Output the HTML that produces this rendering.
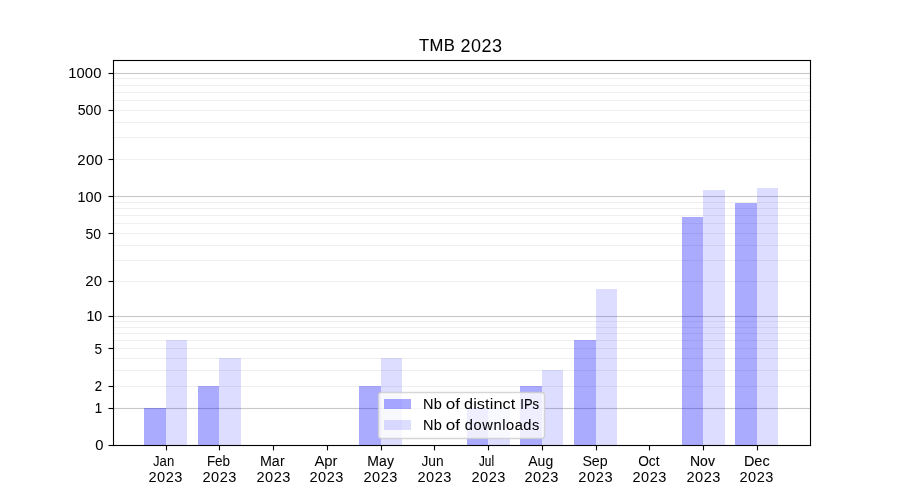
<!DOCTYPE html>
<html lang="en">
<head>
<meta charset="utf-8">
<title>TMB 2023</title>
<style>
html,body{margin:0;padding:0;background:#ffffff;}
body{width:900px;height:500px;overflow:hidden;}
svg{display:block;will-change:transform;}
text{font-family:"Liberation Sans",sans-serif;fill:#000000;}
</style>
</head>
<body>
<svg width="900" height="500" viewBox="0 0 900 500">
<rect x="0" y="0" width="900" height="500" fill="#ffffff"/>
<g fill="#b0b0b0" fill-opacity="0.2">
<rect x="112.5" y="385.9445" width="697.500" height="1.111"/>
<rect x="112.5" y="369.9445" width="697.500" height="1.111"/>
<rect x="112.5" y="357.9445" width="697.500" height="1.111"/>
<rect x="112.5" y="347.9445" width="697.500" height="1.111"/>
<rect x="112.5" y="339.9445" width="697.500" height="1.111"/>
<rect x="112.5" y="332.9445" width="697.500" height="1.111"/>
<rect x="112.5" y="326.9445" width="697.500" height="1.111"/>
<rect x="112.5" y="320.9445" width="697.500" height="1.111"/>
<rect x="112.5" y="280.9445" width="697.500" height="1.111"/>
<rect x="112.5" y="259.9445" width="697.500" height="1.111"/>
<rect x="112.5" y="244.9445" width="697.500" height="1.111"/>
<rect x="112.5" y="232.9445" width="697.500" height="1.111"/>
<rect x="112.5" y="222.9445" width="697.500" height="1.111"/>
<rect x="112.5" y="214.9445" width="697.500" height="1.111"/>
<rect x="112.5" y="207.9445" width="697.500" height="1.111"/>
<rect x="112.5" y="201.9445" width="697.500" height="1.111"/>
<rect x="112.5" y="158.9445" width="697.500" height="1.111"/>
<rect x="112.5" y="136.9445" width="697.500" height="1.111"/>
<rect x="112.5" y="121.9445" width="697.500" height="1.111"/>
<rect x="112.5" y="109.9445" width="697.500" height="1.111"/>
<rect x="112.5" y="99.9445" width="697.500" height="1.111"/>
<rect x="112.5" y="91.9445" width="697.500" height="1.111"/>
<rect x="112.5" y="84.9445" width="697.500" height="1.111"/>
<rect x="112.5" y="77.9445" width="697.500" height="1.111"/>
</g>
<g fill="#b0b0b0" fill-opacity="0.7">
<rect x="112.5" y="407.9445" width="697.500" height="1.111"/>
<rect x="112.5" y="315.9445" width="697.500" height="1.111"/>
<rect x="112.5" y="195.9445" width="697.500" height="1.111"/>
<rect x="112.5" y="72.9445" width="697.500" height="1.111"/>
</g>
<g fill="#0000ff" fill-opacity="0.3333">
<rect x="144" y="408" width="22" height="37"/>
<rect x="198" y="386" width="21" height="59"/>
<rect x="359" y="386" width="22" height="59"/>
<rect x="467" y="408" width="21" height="37"/>
<rect x="520" y="386" width="22" height="59"/>
<rect x="574" y="340" width="22" height="105"/>
<rect x="682" y="217" width="21" height="228"/>
<rect x="735" y="203" width="22" height="242"/>
</g>
<g fill="#0000ff" fill-opacity="0.1333">
<rect x="166" y="340" width="21" height="105"/>
<rect x="219" y="358" width="22" height="87"/>
<rect x="381" y="358" width="21" height="87"/>
<rect x="488" y="408" width="22" height="37"/>
<rect x="542" y="370" width="21" height="75"/>
<rect x="596" y="289" width="21" height="156"/>
<rect x="703" y="190" width="22" height="255"/>
<rect x="757" y="188" width="21" height="257"/>
</g>
<g fill="#000000">
<rect x="112.9445" y="59.944" width="1.111" height="386.112"/>
<rect x="809.9445" y="59.944" width="1.111" height="386.112"/>
<rect x="112.944" y="59.9445" width="698.112" height="1.111"/>
<rect x="112.944" y="444.9445" width="698.112" height="1.111"/>
</g>
<g fill="#000000">
<rect x="165.9445" y="445.5" width="1.111" height="4.860"/>
<rect x="218.9445" y="445.5" width="1.111" height="4.860"/>
<rect x="272.9445" y="445.5" width="1.111" height="4.860"/>
<rect x="326.9445" y="445.5" width="1.111" height="4.860"/>
<rect x="380.9445" y="445.5" width="1.111" height="4.860"/>
<rect x="433.9445" y="445.5" width="1.111" height="4.860"/>
<rect x="487.9445" y="445.5" width="1.111" height="4.860"/>
<rect x="541.9445" y="445.5" width="1.111" height="4.860"/>
<rect x="595.9445" y="445.5" width="1.111" height="4.860"/>
<rect x="648.9445" y="445.5" width="1.111" height="4.860"/>
<rect x="702.9445" y="445.5" width="1.111" height="4.860"/>
<rect x="756.9445" y="445.5" width="1.111" height="4.860"/>
<rect x="108.5" y="444.9445" width="5.000" height="1.111"/>
<rect x="108.5" y="407.9445" width="5.000" height="1.111"/>
<rect x="108.5" y="385.9445" width="5.000" height="1.111"/>
<rect x="108.5" y="347.9445" width="5.000" height="1.111"/>
<rect x="108.5" y="315.9445" width="5.000" height="1.111"/>
<rect x="108.5" y="280.9445" width="5.000" height="1.111"/>
<rect x="108.5" y="232.9445" width="5.000" height="1.111"/>
<rect x="108.5" y="195.9445" width="5.000" height="1.111"/>
<rect x="108.5" y="158.9445" width="5.000" height="1.111"/>
<rect x="108.5" y="109.9445" width="5.000" height="1.111"/>
<rect x="108.5" y="72.9445" width="5.000" height="1.111"/>
</g>
<text x="153.00" y="465.53" font-size="14.70" textLength="21.20" lengthAdjust="spacingAndGlyphs">Jan</text>
<text x="148.50" y="481.83" font-size="14.45" letter-spacing="0.50" textLength="34.50" lengthAdjust="spacingAndGlyphs">2023</text>
<text x="206.94" y="466.28" font-size="14.90" letter-spacing="-0.05" textLength="23.09" lengthAdjust="spacingAndGlyphs">Feb</text>
<text x="202.50" y="481.83" font-size="14.45" letter-spacing="0.50" textLength="34.50" lengthAdjust="spacingAndGlyphs">2023</text>
<text x="259.88" y="466.28" font-size="14.25" letter-spacing="0.10" stroke="#000000" stroke-width="0.03" textLength="24.85" lengthAdjust="spacingAndGlyphs">Mar</text>
<text x="256.50" y="481.83" font-size="14.45" letter-spacing="0.50" textLength="34.50" lengthAdjust="spacingAndGlyphs">2023</text>
<text x="314.50" y="466.28" font-size="14.30" letter-spacing="-0.05" textLength="23.00" lengthAdjust="spacingAndGlyphs">Apr</text>
<text x="309.50" y="481.83" font-size="14.45" letter-spacing="0.50" textLength="34.50" lengthAdjust="spacingAndGlyphs">2023</text>
<text x="367.19" y="466.28" font-size="15.55" letter-spacing="0.15" stroke="#000000" stroke-width="0.10" textLength="26.83" lengthAdjust="spacingAndGlyphs">May</text>
<text x="363.50" y="481.83" font-size="14.45" letter-spacing="0.50" textLength="34.50" lengthAdjust="spacingAndGlyphs">2023</text>
<text x="421.50" y="465.53" font-size="14.70" textLength="22.12" lengthAdjust="spacingAndGlyphs">Jun</text>
<text x="417.50" y="481.83" font-size="14.45" letter-spacing="0.50" textLength="34.50" lengthAdjust="spacingAndGlyphs">2023</text>
<text x="479.00" y="466.28" font-size="14.55" stroke="#000000" stroke-width="0.13" textLength="15.00" lengthAdjust="spacingAndGlyphs">Jul</text>
<text x="471.50" y="481.83" font-size="14.45" letter-spacing="0.50" textLength="34.50" lengthAdjust="spacingAndGlyphs">2023</text>
<text x="528.25" y="466.28" font-size="14.50" textLength="24.93" lengthAdjust="spacingAndGlyphs">Aug</text>
<text x="524.50" y="481.83" font-size="14.45" letter-spacing="0.50" textLength="34.50" lengthAdjust="spacingAndGlyphs">2023</text>
<text x="582.50" y="466.28" font-size="14.00" letter-spacing="-0.10" textLength="24.99" lengthAdjust="spacingAndGlyphs">Sep</text>
<text x="578.19" y="481.83" font-size="14.45" letter-spacing="0.60" textLength="35.02" lengthAdjust="spacingAndGlyphs">2023</text>
<text x="638.19" y="466.28" font-size="15.00" letter-spacing="-0.05" stroke="#000000" stroke-width="0.03" textLength="21.25" lengthAdjust="spacingAndGlyphs">Oct</text>
<text x="632.50" y="481.83" font-size="14.45" letter-spacing="0.50" textLength="34.50" lengthAdjust="spacingAndGlyphs">2023</text>
<text x="690.00" y="466.28" font-size="14.60" stroke="#000000" stroke-width="0.13" textLength="24.93" lengthAdjust="spacingAndGlyphs">Nov</text>
<text x="686.50" y="481.83" font-size="14.45" letter-spacing="0.50" textLength="34.50" lengthAdjust="spacingAndGlyphs">2023</text>
<text x="743.94" y="466.28" font-size="14.90" stroke="#000000" stroke-width="0.08" textLength="25.69" lengthAdjust="spacingAndGlyphs">Dec</text>
<text x="739.50" y="481.83" font-size="14.45" letter-spacing="0.50" textLength="34.50" lengthAdjust="spacingAndGlyphs">2023</text>
<text x="95.25" y="450.00" font-size="14.25" stroke="#000000" stroke-width="0.05" textLength="8.20" lengthAdjust="spacingAndGlyphs">0</text>
<text x="94.75" y="413.00" font-size="14.05" letter-spacing="0.10" stroke="#000000" stroke-width="0.13" textLength="7.42" lengthAdjust="spacingAndGlyphs">1</text>
<text x="94.75" y="391.00" font-size="14.70" letter-spacing="0.05" stroke="#000000" stroke-width="0.13" textLength="7.30" lengthAdjust="spacingAndGlyphs">2</text>
<text x="94.50" y="354.00" font-size="13.95" textLength="7.60" lengthAdjust="spacingAndGlyphs">5</text>
<text x="86.62" y="321.00" font-size="14.20" letter-spacing="-0.25" stroke="#000000" stroke-width="0.08" textLength="15.31" lengthAdjust="spacingAndGlyphs">10</text>
<text x="85.38" y="286.00" font-size="13.90" textLength="16.68" lengthAdjust="spacingAndGlyphs">20</text>
<text x="85.62" y="239.00" font-size="14.20" textLength="15.53" lengthAdjust="spacingAndGlyphs">50</text>
<text x="77.50" y="202.00" font-size="14.20" letter-spacing="0.05" stroke="#000000" stroke-width="0.05" textLength="24.20" lengthAdjust="spacingAndGlyphs">100</text>
<text x="77.38" y="165.00" font-size="14.85" letter-spacing="0.20" stroke="#000000" stroke-width="0.03" textLength="25.58" lengthAdjust="spacingAndGlyphs">200</text>
<text x="77.75" y="115.00" font-size="15.10" stroke="#000000" stroke-width="0.03" textLength="23.60" lengthAdjust="spacingAndGlyphs">500</text>
<text x="68.25" y="78.00" font-size="15.00" letter-spacing="0.10" stroke="#000000" stroke-width="0.03" textLength="33.25" lengthAdjust="spacingAndGlyphs">1000</text>
<text><tspan x="418.95" y="51.00" font-size="17.05" letter-spacing="0.35" stroke="#000000" stroke-width="0.12" textLength="36.15" lengthAdjust="spacingAndGlyphs">TMB</tspan> <tspan x="460.57" y="52.00" font-size="18.35" letter-spacing="0.45" textLength="41.83" lengthAdjust="spacingAndGlyphs">2023</tspan></text>
<path d="M381.28 438.5 L541.72 438.5 Q544.5 438.5 544.5 435.72 L544.5 395.28 Q544.5 392.5 541.72 392.5 L381.28 392.5 Q378.5 392.5 378.5 395.28 L378.5 435.72 Q378.5 438.5 381.28 438.5 Z" fill="#ffffff" fill-opacity="0.8" stroke="#cccccc" stroke-opacity="0.8" stroke-width="1.389"/>
<rect x="384" y="399" width="27" height="10" fill="#0000ff" fill-opacity="0.3333"/>
<rect x="384" y="420" width="27" height="10" fill="#0000ff" fill-opacity="0.1333"/>
<text><tspan x="422.95" y="409.00" font-size="14.10" letter-spacing="0.20" stroke="#000000" stroke-width="0.05" textLength="18.98" lengthAdjust="spacingAndGlyphs">Nb</tspan> <tspan x="445.70" y="409.00" font-size="15.10" textLength="14.22" lengthAdjust="spacingAndGlyphs">of</tspan> <tspan x="464.01" y="409.00" font-size="14.90" letter-spacing="0.10" textLength="51.45" lengthAdjust="spacingAndGlyphs">distinct</tspan> <tspan x="520.20" y="409.00" font-size="14.80" letter-spacing="0.10" stroke="#000000" stroke-width="0.13" textLength="19.00" lengthAdjust="spacingAndGlyphs">IPs</tspan></text>
<text><tspan x="422.95" y="430.00" font-size="14.10" letter-spacing="0.20" stroke="#000000" stroke-width="0.05" textLength="18.98" lengthAdjust="spacingAndGlyphs">Nb</tspan> <tspan x="445.70" y="430.00" font-size="15.10" textLength="14.22" lengthAdjust="spacingAndGlyphs">of</tspan> <tspan x="464.89" y="430.00" font-size="13.95" letter-spacing="0.55" stroke="#000000" stroke-width="0.05" textLength="75.09" lengthAdjust="spacingAndGlyphs">downloads</tspan></text>
</svg>
</body>
</html>
